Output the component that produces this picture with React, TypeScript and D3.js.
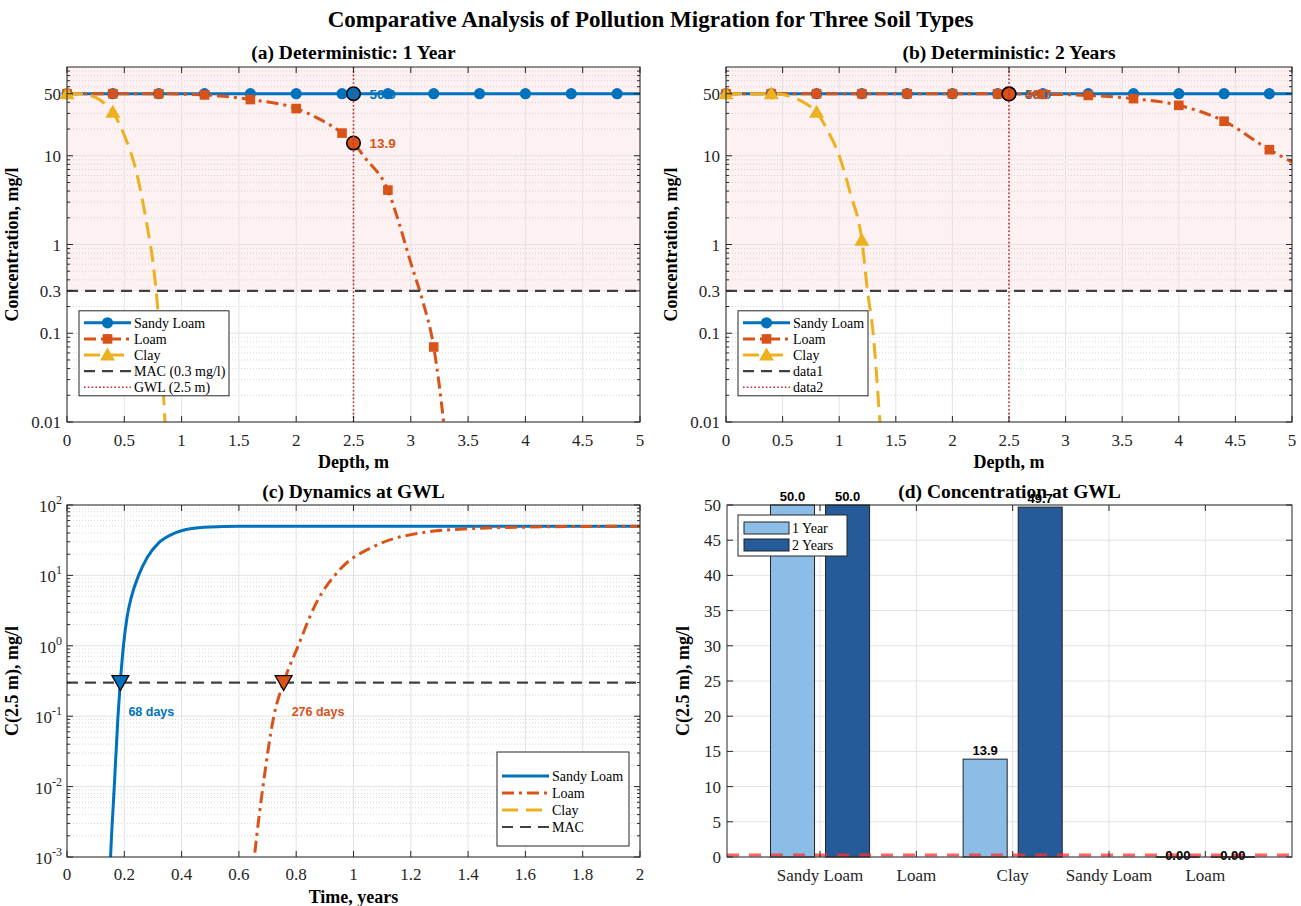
import React from "react";
import * as d3 from "d3";

type Pt = [number, number];

// ---------------- fonts / colours ----------------
const SERIF = "'Liberation Serif','Times New Roman',Times,serif";
const SANS = "'Liberation Sans',Arial,Helvetica,sans-serif";
const AXC = "#262626";
const BLUE = "#0072BD";
const ORANGE = "#D95319";
const YELLOW = "#EDB120";
const MACC = "#404040";
const GWLC = "#C0282D";
const PINK = "#FEF1F1";
const GRID = "#e3e3e3";
const MINOR = "#cccccc";
const TICKFS = 17;

// ---------------- texts ----------------
const mainTitle = "Comparative Analysis of Pollution Migration for Three Soil Types";
const panelTitles = [
  "(a) Deterministic: 1 Year",
  "(b) Deterministic: 2 Years",
  "(c) Dynamics at GWL",
  "(d) Concentration at GWL",
];
const legendA = ["Sandy Loam", "Loam", "Clay", "MAC (0.3 mg/l)", "GWL (2.5 m)"];
const legendB = ["Sandy Loam", "Loam", "Clay", "data1", "data2"];
const legendC = ["Sandy Loam", "Loam", "Clay", "MAC"];
const legendD = ["1 Year", "2 Years"];

// ---------------- constants ----------------
const MAC = 0.3;
const GWL = 2.5;

// ---------------- depth profiles ----------------
const depthTicks = [0, 0.5, 1, 1.5, 2, 2.5, 3, 3.5, 4, 4.5, 5];
const concTicks = [0.01, 0.1, 0.3, 1, 10, 50];
const concTickLabels = ["0.01", "0.1", "0.3", "1", "10", "50"];

// (a) 1 year
const slDepth1 = [0, 0.4, 0.8, 1.2, 1.6, 2.0, 2.4, 2.8, 3.2, 3.6, 4.0, 4.4, 4.8, 5.0];
const slConc1 = [50, 50, 50, 50, 50, 50, 50, 50, 50, 50, 50, 50, 50, 50];
const loamDepth1 = [0, 0.4, 0.8, 1.2, 1.6, 2.0, 2.2, 2.4, 2.5, 2.6, 2.8, 2.9, 3.0, 3.1, 3.2, 3.25, 3.3, 3.4];
const loamConc1 = [50, 50, 49.9, 48.5, 43, 34, 26, 18, 13.9, 9.5, 4.1, 1.7, 0.62, 0.24, 0.07, 0.025, 0.007, 0.0006];
const clayDepth1 = [0, 0.1, 0.2, 0.3, 0.4, 0.5, 0.6, 0.7, 0.75, 0.8, 0.85, 0.9];
const clayConc1 = [50, 49.8, 48, 41.5, 31, 17, 7, 1.6, 0.63, 0.14, 0.013, 0.0005];

// (b) 2 years
const slDepth2 = [0, 0.4, 0.8, 1.2, 1.6, 2.0, 2.4, 2.8, 3.2, 3.6, 4.0, 4.4, 4.8, 5.0];
const slConc2 = [50, 50, 50, 50, 50, 50, 50, 50, 50, 50, 50, 50, 50, 50];
const loamDepth2 = [0, 0.4, 0.8, 1.2, 1.6, 2.0, 2.4, 2.5, 2.8, 3.2, 3.6, 4.0, 4.4, 4.8, 5.0];
const loamConc2 = [50, 50, 50, 50, 50, 50, 49.9, 49.7, 49.3, 47.8, 44, 37, 24.5, 11.7, 8.5];
const clayDepth2 = [0, 0.4, 0.5, 0.6, 0.7, 0.8, 0.9, 1.0, 1.1, 1.2, 1.25, 1.3, 1.36, 1.45];
const clayConc2 = [50, 50, 49, 45, 39, 31, 19, 10, 3.7, 1.12, 0.3, 0.1, 0.01, 0.0003];

// values at GWL
const slAtGwl = [50.0, 50.0];
const loamAtGwl = [13.9, 49.7];

// ---------------- dynamics at GWL ----------------
const timeTicks = [0, 0.2, 0.4, 0.6, 0.8, 1, 1.2, 1.4, 1.6, 1.8, 2];
const dynExponents = [-3, -2, -1, 0, 1, 2];
const slTime = [0.14, 0.152, 0.165, 0.178, 0.186, 0.197, 0.21, 0.225, 0.25, 0.28, 0.32, 0.37, 0.43, 0.5, 0.6, 0.8, 1.2, 2.0];
const slConcT = [0.00005, 0.001, 0.01, 0.1, 0.3, 1.0, 2.6, 5.0, 10, 18, 29, 39, 46, 48.8, 49.8, 50, 50, 50];
const loamTime = [0.63, 0.654, 0.684, 0.722, 0.756, 0.807, 0.865, 0.954, 1.073, 1.25, 1.4, 1.6, 1.8, 2.0];
const loamConcT = [0.0001, 0.001, 0.01, 0.1, 0.3, 1.0, 3.7, 12.3, 26, 41, 46, 48.5, 49.5, 50];
const arrivalDays = [68, 276];

// ---------------- bar chart ----------------
const barGroups = [1, 2, 3];
const conc1Year = [50.0, 13.9, 0.0];
const conc2Years = [50.0, 49.7, 0.0];
const barXTicks = [1, 1.5, 2, 2.5, 3];
const barXTickLabels = ["Sandy Loam", "Loam", "Clay", "Sandy Loam", "Loam"];
const barYTicks = [0, 5, 10, 15, 20, 25, 30, 35, 40, 45, 50];

// ---------------- helpers ----------------
const zip = (xs: number[], ys: number[]): Pt[] => xs.map((v, i) => [v, ys[i]] as Pt);

function minorLog(lo: number, hi: number): number[] {
  const out: number[] = [];
  for (let e = Math.floor(Math.log10(lo)); e < Math.ceil(Math.log10(hi)); e++) {
    for (let k = 2; k <= 9; k++) {
      const v = k * Math.pow(10, e);
      if (v > lo && v < hi) out.push(v);
    }
  }
  return out;
}

const DASH_LOAM = "12,5,3,5";
const DASH_CLAY = "16,8";
const DASH_MAC = "11,7";
const DASH_GWL = "1.6,2.2";

function Marker({ type, cx, cy, color, big }: { type: string; cx: number; cy: number; color: string; big?: boolean }) {
  if (type === "o") {
    return big ? (
      <circle cx={cx} cy={cy} r={6.8} fill={color} stroke="#000" strokeWidth={1.5} />
    ) : (
      <circle cx={cx} cy={cy} r={5.6} fill={color} />
    );
  }
  if (type === "s") return <rect x={cx - 4.8} y={cy - 4.8} width={9.6} height={9.6} fill={color} />;
  if (type === "^")
    return <path d={`M${cx},${cy - 7.5}L${cx + 7.5},${cy + 5.5}L${cx - 7.5},${cy + 5.5}Z`} fill={color} />;
  if (type === "v")
    return (
      <path
        d={`M${cx - 8.5},${cy - 7}L${cx + 8.5},${cy - 7}L${cx},${cy + 8}Z`}
        fill={color}
        stroke="#000"
        strokeWidth={1.2}
      />
    );
  return null;
}

type LegendRow = { label: string; color: string; width: number; dash?: string; marker?: string };

function Legend({ x, y, w, h, rows, rowY0, step }: { x: number; y: number; w: number; h: number; rows: LegendRow[]; rowY0: number; step: number }) {
  return (
    <g>
      <rect x={x} y={y} width={w} height={h} fill="#fff" stroke={AXC} strokeWidth={1} />
      {rows.map((r, i) => {
        const yc = rowY0 + i * step;
        return (
          <g key={i}>
            <line x1={x + 5} x2={x + 52} y1={yc} y2={yc} stroke={r.color} strokeWidth={r.width} strokeDasharray={r.dash} />
            {r.marker && <Marker type={r.marker} cx={x + 28.5} cy={yc} color={r.color} />}
            <text x={x + 55} y={yc + 5} fontFamily={SERIF} fontSize={14} fill="#000">
              {r.label}
            </text>
          </g>
        );
      })}
    </g>
  );
}

const onMarkerGrid = (d: number) => Math.abs(d / 0.4 - Math.round(d / 0.4)) < 1e-6;

// ---------------- depth panel ----------------
function DepthPanel(props: {
  id: string;
  left: number;
  right: number;
  top: number;
  bottom: number;
  title: string;
  sl: Pt[];
  loam: Pt[];
  clay: Pt[];
  slVal: number;
  loamVal: number;
  legend: string[];
}) {
  const { id, left, right, top, bottom, title, sl, loam, clay, slVal, loamVal, legend } = props;
  const x = d3.scaleLinear().domain([0, 5]).range([left, right]);
  const y = d3.scaleLog().domain([0.01, 100]).range([bottom, top]);
  const line = d3
    .line<Pt>()
    .x((d) => x(d[0]))
    .y((d) => y(d[1]))
    .curve(d3.curveMonotoneX);
  const minors = minorLog(0.01, 100).filter((v) => !concTicks.some((t) => Math.abs(t - v) / v < 1e-9));
  const inRange = (p: Pt) => p[1] >= 0.01 && p[1] <= 100;
  const mid = (top + bottom) / 2;
  const labelX = x(GWL) + 16;
  return (
    <g>
      <defs>
        <clipPath id={`clip-${id}`}>
          <rect x={left} y={top} width={right - left} height={bottom - top} />
        </clipPath>
      </defs>
      {/* exceedance zone */}
      <rect x={left} y={top} width={right - left} height={y(MAC) - top} fill={PINK} />
      {/* grid */}
      {minors.map((v, i) => (
        <line key={"m" + i} x1={left} x2={right} y1={y(v)} y2={y(v)} stroke={MINOR} strokeWidth={0.8} strokeDasharray="1,2" />
      ))}
      {concTicks.map((v, i) => (
        <line key={"g" + i} x1={left} x2={right} y1={y(v)} y2={y(v)} stroke={GRID} strokeWidth={1} />
      ))}
      {depthTicks.map((v, i) => (
        <line key={"gx" + i} x1={x(v)} x2={x(v)} y1={top} y2={bottom} stroke={GRID} strokeWidth={1} />
      ))}
      <g clipPath={`url(#clip-${id})`}>
        <path d={line(sl) || ""} fill="none" stroke={BLUE} strokeWidth={3} />
        <path d={line(loam) || ""} fill="none" stroke={ORANGE} strokeWidth={3} strokeDasharray={DASH_LOAM} />
        <path d={line(clay) || ""} fill="none" stroke={YELLOW} strokeWidth={3} strokeDasharray={DASH_CLAY} />
      </g>
      {sl.filter((p) => onMarkerGrid(p[0]) && inRange(p)).map((p, i) => (
        <Marker key={"ms" + i} type="o" cx={x(p[0])} cy={y(p[1])} color={BLUE} />
      ))}
      {loam.filter((p) => onMarkerGrid(p[0]) && inRange(p)).map((p, i) => (
        <Marker key={"ml" + i} type="s" cx={x(p[0])} cy={y(p[1])} color={ORANGE} />
      ))}
      {clay.filter((p) => onMarkerGrid(p[0]) && inRange(p)).map((p, i) => (
        <Marker key={"mc" + i} type="^" cx={x(p[0])} cy={y(p[1])} color={YELLOW} />
      ))}
      {/* MAC line */}
      <line x1={left} x2={right} y1={y(MAC)} y2={y(MAC)} stroke={MACC} strokeWidth={2.2} strokeDasharray={DASH_MAC} />
      {/* GWL points */}
      <Marker type="o" big cx={x(GWL)} cy={y(slVal)} color={BLUE} />
      <Marker type="o" big cx={x(GWL)} cy={y(loamVal)} color={ORANGE} />
      <text x={labelX} y={y(slVal) + 5} fontFamily={SANS} fontWeight="bold" fontSize={13.5} fill={BLUE}>
        {slVal.toFixed(1)}
      </text>
      <text x={labelX} y={y(loamVal) + 5} fontFamily={SANS} fontWeight="bold" fontSize={13.5} fill={ORANGE}>
        {loamVal.toFixed(1)}
      </text>
      {/* GWL line */}
      <line x1={x(GWL)} x2={x(GWL)} y1={top} y2={bottom} stroke={GWLC} strokeWidth={1.6} strokeDasharray={DASH_GWL} />
      {/* axes box + ticks */}
      <rect x={left} y={top} width={right - left} height={bottom - top} fill="none" stroke={AXC} strokeWidth={1} />
      {depthTicks.map((v, i) => (
        <g key={"tx" + i}>
          <line x1={x(v)} x2={x(v)} y1={bottom} y2={bottom - 6} stroke={AXC} />
          <line x1={x(v)} x2={x(v)} y1={top} y2={top + 6} stroke={AXC} />
          <text x={x(v)} y={bottom + 24} textAnchor="middle" fontFamily={SERIF} fontSize={TICKFS} fill={AXC}>
            {String(v)}
          </text>
        </g>
      ))}
      {concTicks.map((v, i) => (
        <g key={"ty" + i}>
          <line x1={left} x2={left + 6} y1={y(v)} y2={y(v)} stroke={AXC} />
          <line x1={right} x2={right - 6} y1={y(v)} y2={y(v)} stroke={AXC} />
          <text x={left - 6} y={y(v) + 6} textAnchor="end" fontFamily={SERIF} fontSize={TICKFS} fill={AXC}>
            {concTickLabels[i]}
          </text>
        </g>
      ))}
      {minors.map((v, i) => (
        <g key={"mt" + i}>
          <line x1={left} x2={left + 3} y1={y(v)} y2={y(v)} stroke={AXC} />
          <line x1={right} x2={right - 3} y1={y(v)} y2={y(v)} stroke={AXC} />
        </g>
      ))}
      <text x={(left + right) / 2} y={top - 8} textAnchor="middle" fontFamily={SERIF} fontWeight="bold" fontSize={19.5} fill="#000">
        {title}
      </text>
      <text x={(left + right) / 2} y={bottom + 46} textAnchor="middle" fontFamily={SERIF} fontWeight="bold" fontSize={18} fill="#000">
        Depth, m
      </text>
      <text
        transform={`translate(${left - 49},${mid}) rotate(-90)`}
        textAnchor="middle"
        fontFamily={SERIF}
        fontWeight="bold"
        fontSize={18}
        fill="#000"
      >
        Concentration, mg/l
      </text>
      <Legend
        x={left + 12}
        y={y(0.17) - 2}
        w={legend[3].length > 6 ? 150 : 130}
        h={85}
        rowY0={y(0.17) + 10}
        step={16.1}
        rows={[
          { label: legend[0], color: BLUE, width: 3, marker: "o" },
          { label: legend[1], color: ORANGE, width: 3, dash: DASH_LOAM, marker: "s" },
          { label: legend[2], color: YELLOW, width: 3, dash: DASH_CLAY, marker: "^" },
          { label: legend[3], color: MACC, width: 2.2, dash: DASH_MAC },
          { label: legend[4], color: GWLC, width: 1.6, dash: DASH_GWL },
        ]}
      />
    </g>
  );
}

// ---------------- dynamics panel ----------------
function DynamicsPanel() {
  const left = 67, right = 640, top = 505, bottom = 857;
  const x = d3.scaleLinear().domain([0, 2]).range([left, right]);
  const y = d3.scaleLog().domain([1e-3, 1e2]).range([bottom, top]);
  const line = d3
    .line<Pt>()
    .x((d) => x(d[0]))
    .y((d) => y(d[1]))
    .curve(d3.curveMonotoneX);
  const minors = minorLog(1e-3, 1e2);
  const mid = (top + bottom) / 2;
  const arrivals = arrivalDays.map((d) => d / 365);
  const colors = [BLUE, ORANGE];
  return (
    <g>
      <defs>
        <clipPath id="clip-c">
          <rect x={left} y={top} width={right - left} height={bottom - top} />
        </clipPath>
      </defs>
      {minors.map((v, i) => (
        <line key={"m" + i} x1={left} x2={right} y1={y(v)} y2={y(v)} stroke={MINOR} strokeWidth={0.8} strokeDasharray="1,2" />
      ))}
      {dynExponents.map((e, i) => (
        <line key={"g" + i} x1={left} x2={right} y1={y(Math.pow(10, e))} y2={y(Math.pow(10, e))} stroke={GRID} />
      ))}
      {timeTicks.map((v, i) => (
        <line key={"gx" + i} x1={x(v)} x2={x(v)} y1={top} y2={bottom} stroke={GRID} />
      ))}
      <g clipPath="url(#clip-c)">
        <path d={line(zip(slTime, slConcT)) || ""} fill="none" stroke={BLUE} strokeWidth={3} />
        <path d={line(zip(loamTime, loamConcT)) || ""} fill="none" stroke={ORANGE} strokeWidth={3} strokeDasharray={DASH_LOAM} />
      </g>
      <line x1={left} x2={right} y1={y(MAC)} y2={y(MAC)} stroke={MACC} strokeWidth={2.2} strokeDasharray={DASH_MAC} />
      {arrivals.map((t, i) => (
        <g key={"ar" + i}>
          <Marker type="v" cx={x(t)} cy={y(MAC)} color={colors[i]} />
          <text x={x(t) + 8} y={y(0.12) + 5} fontFamily={SANS} fontWeight="bold" fontSize={12.5} fill={colors[i]}>
            {`${arrivalDays[i]} days`}
          </text>
        </g>
      ))}
      <rect x={left} y={top} width={right - left} height={bottom - top} fill="none" stroke={AXC} strokeWidth={1} />
      {timeTicks.map((v, i) => (
        <g key={"tx" + i}>
          <line x1={x(v)} x2={x(v)} y1={bottom} y2={bottom - 6} stroke={AXC} />
          <line x1={x(v)} x2={x(v)} y1={top} y2={top + 6} stroke={AXC} />
          <text x={x(v)} y={bottom + 23} textAnchor="middle" fontFamily={SERIF} fontSize={TICKFS} fill={AXC}>
            {String(v)}
          </text>
        </g>
      ))}
      {dynExponents.map((e, i) => {
        const yy = y(Math.pow(10, e));
        return (
          <g key={"ty" + i}>
            <line x1={left} x2={left + 6} y1={yy} y2={yy} stroke={AXC} />
            <line x1={right} x2={right - 6} y1={yy} y2={yy} stroke={AXC} />
            <text x={left - 5} y={yy + 7} textAnchor="end" fontFamily={SERIF} fontSize={TICKFS} fill={AXC}>
              10
              <tspan dy={-8} fontSize={12}>
                {String(e)}
              </tspan>
            </text>
          </g>
        );
      })}
      {minors.map((v, i) => (
        <g key={"mt" + i}>
          <line x1={left} x2={left + 3} y1={y(v)} y2={y(v)} stroke={AXC} />
          <line x1={right} x2={right - 3} y1={y(v)} y2={y(v)} stroke={AXC} />
        </g>
      ))}
      <text x={(left + right) / 2} y={top - 7} textAnchor="middle" fontFamily={SERIF} fontWeight="bold" fontSize={19.5} fill="#000">
        {panelTitles[2]}
      </text>
      <text x={(left + right) / 2} y={bottom + 46} textAnchor="middle" fontFamily={SERIF} fontWeight="bold" fontSize={18} fill="#000">
        Time, years
      </text>
      <text
        transform={`translate(${left - 49},${mid}) rotate(-90)`}
        textAnchor="middle"
        fontFamily={SERIF}
        fontWeight="bold"
        fontSize={18}
        fill="#000"
      >
        C(2.5 m), mg/l
      </text>
      <Legend
        x={497}
        y={752}
        w={132}
        h={94}
        rowY0={776}
        step={17}
        rows={[
          { label: legendC[0], color: BLUE, width: 3 },
          { label: legendC[1], color: ORANGE, width: 3, dash: DASH_LOAM },
          { label: legendC[2], color: YELLOW, width: 3, dash: DASH_CLAY },
          { label: legendC[3], color: MACC, width: 2.2, dash: DASH_MAC },
        ]}
      />
    </g>
  );
}

// ---------------- bar panel ----------------
function BarPanel() {
  const left = 727, right = 1292, top = 505, bottom = 857;
  const x = d3.scaleLinear().domain([0.517, 3.45]).range([left, right]);
  const y = d3.scaleLinear().domain([0, 50]).range([bottom, top]);
  const bw = 0.2286;
  const off = 0.1429;
  const light = "#8CBDE6";
  const dark = "#265B99";
  const series = [
    { vals: conc1Year, dx: -off, color: light },
    { vals: conc2Years, dx: off, color: dark },
  ];
  const mid = (top + bottom) / 2;
  const fmt = (v: number) => (v > 0.5 ? v.toFixed(1) : v.toFixed(2));
  return (
    <g>
      {barYTicks.map((v, i) => (
        <line key={"gy" + i} x1={left} x2={right} y1={y(v)} y2={y(v)} stroke={GRID} />
      ))}
      {barXTicks.map((v, i) => (
        <line key={"gx" + i} x1={x(v)} x2={x(v)} y1={top} y2={bottom} stroke={GRID} />
      ))}
      {series.map((s, si) =>
        barGroups.map((g, gi) => {
          const x0 = x(g + s.dx - bw / 2);
          const x1 = x(g + s.dx + bw / 2);
          const v = s.vals[gi];
          const h = y(0) - y(v);
          return h > 0.5 ? (
            <rect key={`b${si}-${gi}`} x={x0} y={y(v)} width={x1 - x0} height={h} fill={s.color} stroke="#222" strokeWidth={1} />
          ) : (
            <line key={`b${si}-${gi}`} x1={x0} x2={x1} y1={y(v)} y2={y(v)} stroke="#111" strokeWidth={1.5} />
          );
        })
      )}
      <line x1={left} x2={right} y1={y(MAC)} y2={y(MAC)} stroke="#FF3030" strokeOpacity={0.75} strokeWidth={3} strokeDasharray="12,10" />
      {series.map((s, si) =>
        barGroups.map((g, gi) => {
          const v = s.vals[gi];
          const cy = v > 0.5 ? y(v) - 9 : y(0) - 1.5;
          return (
            <text
              key={`l${si}-${gi}`}
              x={x(g + s.dx)}
              y={cy + 4.5}
              textAnchor="middle"
              fontFamily={SANS}
              fontWeight="bold"
              fontSize={13}
              fill="#000"
            >
              {fmt(v)}
            </text>
          );
        })
      )}
      <rect x={left} y={top} width={right - left} height={bottom - top} fill="none" stroke={AXC} strokeWidth={1} />
      {barXTicks.map((v, i) => (
        <g key={"tx" + i}>
          <line x1={x(v)} x2={x(v)} y1={bottom} y2={bottom - 6} stroke={AXC} />
          <line x1={x(v)} x2={x(v)} y1={top} y2={top + 6} stroke={AXC} />
          <text x={x(v)} y={bottom + 24} textAnchor="middle" fontFamily={SERIF} fontSize={TICKFS} fill={AXC}>
            {barXTickLabels[i]}
          </text>
        </g>
      ))}
      {barYTicks.map((v, i) => (
        <g key={"ty" + i}>
          <line x1={left} x2={left + 6} y1={y(v)} y2={y(v)} stroke={AXC} />
          <line x1={right} x2={right - 6} y1={y(v)} y2={y(v)} stroke={AXC} />
          <text x={left - 6} y={y(v) + 6} textAnchor="end" fontFamily={SERIF} fontSize={TICKFS} fill={AXC}>
            {String(v)}
          </text>
        </g>
      ))}
      <text x={(left + right) / 2} y={top - 7} textAnchor="middle" fontFamily={SERIF} fontWeight="bold" fontSize={19.5} fill="#000">
        {panelTitles[3]}
      </text>
      <text
        transform={`translate(${left - 38},${mid}) rotate(-90)`}
        textAnchor="middle"
        fontFamily={SERIF}
        fontWeight="bold"
        fontSize={18}
        fill="#000"
      >
        C(2.5 m), mg/l
      </text>
      <g>
        <rect x={738} y={515} width={109} height={41} fill="#fff" stroke={AXC} strokeWidth={1} />
        {legendD.map((lab, i) => (
          <g key={"lg" + i}>
            <rect x={744} y={522 + i * 17} width={45} height={12} fill={i === 0 ? light : dark} stroke="#222" strokeWidth={1} />
            <text x={792} y={533 + i * 17} fontFamily={SERIF} fontSize={14} fill="#000">
              {lab}
            </text>
          </g>
        ))}
      </g>
    </g>
  );
}

export default function App() {
  return (
    <svg
      width={1301}
      height={906}
      viewBox="0 0 1301 906"
      style={{ position: "absolute", left: 0, top: 0, display: "block", background: "#fff" }}
    >
      <rect x={0} y={0} width={1301} height={906} fill="#fff" />
      <text x={650.5} y={27} textAnchor="middle" fontFamily={SERIF} fontWeight="bold" fontSize={23} fill="#000">
        {mainTitle}
      </text>
      <DepthPanel
        id="a"
        left={67}
        right={640}
        top={67}
        bottom={422}
        title={panelTitles[0]}
        sl={zip(slDepth1, slConc1)}
        loam={zip(loamDepth1, loamConc1)}
        clay={zip(clayDepth1, clayConc1)}
        slVal={slAtGwl[0]}
        loamVal={loamAtGwl[0]}
        legend={legendA}
      />
      <DepthPanel
        id="b"
        left={726}
        right={1292}
        top={67}
        bottom={422}
        title={panelTitles[1]}
        sl={zip(slDepth2, slConc2)}
        loam={zip(loamDepth2, loamConc2)}
        clay={zip(clayDepth2, clayConc2)}
        slVal={slAtGwl[1]}
        loamVal={loamAtGwl[1]}
        legend={legendB}
      />
      <DynamicsPanel />
      <BarPanel />
    </svg>
  );
}
